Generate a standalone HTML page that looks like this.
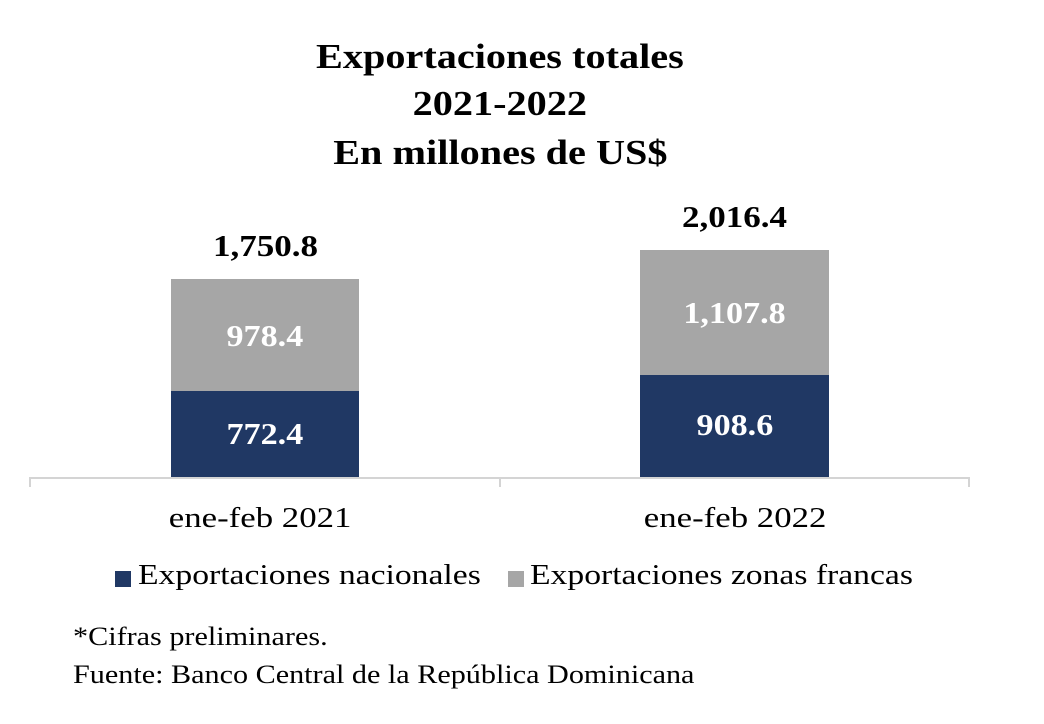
<!DOCTYPE html>
<html><head><meta charset="utf-8"><style>
html,body{margin:0;padding:0;background:#fff;}
body{width:1044px;height:724px;position:relative;overflow:hidden;font-family:"Liberation Serif",serif;}
.a{position:absolute;white-space:nowrap;}
.c{text-align:center;}
.c span{display:inline-block;}
.t{font-weight:bold;font-size:35px;color:#000;width:1000px;left:0;}
.t span{transform:scaleX(1.15);}
.bar{position:absolute;}
.lbl{position:absolute;color:#fff;font-weight:bold;font-size:31px;text-align:center;}
.lbl span{display:inline-block;transform:scaleX(1.1);}
</style></head><body>
<div class="a t c" style="top:37px;"><span>Exportaciones totales</span></div>
<div class="a t c" style="top:84px;"><span>2021-2022</span></div>
<div class="a t c" style="top:133px;"><span>En millones de US$</span></div>

<div class="bar" style="left:171px;top:279px;width:188px;height:112px;background:#a6a6a6;"></div>
<div class="bar" style="left:171px;top:391px;width:188px;height:86px;background:#203864;"></div>
<div class="bar" style="left:640px;top:250px;width:189px;height:125px;background:#a6a6a6;"></div>
<div class="bar" style="left:640px;top:375px;width:189px;height:102px;background:#203864;"></div>

<div class="lbl" style="left:171px;width:188px;top:318px;"><span>978.4</span></div>
<div class="lbl" style="left:171px;width:188px;top:416px;"><span>772.4</span></div>
<div class="lbl" style="left:640px;width:189px;top:295px;"><span>1,107.8</span></div>
<div class="lbl" style="left:640px;width:189px;top:407px;"><span>908.6</span></div>

<div class="a c" style="left:165px;width:200px;top:228px;font-weight:bold;font-size:31px;"><span style="transform:scaleX(1.13)">1,750.8</span></div>
<div class="a c" style="left:634px;width:200px;top:199px;font-weight:bold;font-size:31px;"><span style="transform:scaleX(1.13)">2,016.4</span></div>

<div class="bar" style="left:29px;top:477px;width:941px;height:2px;background:#d4d4d4;"></div>
<div class="bar" style="left:29px;top:477px;width:2px;height:10px;background:#d4d4d4;"></div>
<div class="bar" style="left:499px;top:477px;width:2px;height:10px;background:#d4d4d4;"></div>
<div class="bar" style="left:968px;top:477px;width:2px;height:10px;background:#d4d4d4;"></div>

<div class="a c" style="left:110px;width:300px;top:502px;font-size:29px;"><span style="transform:scaleX(1.2)">ene-feb 2021</span></div>
<div class="a c" style="left:585px;width:300px;top:502px;font-size:29px;"><span style="transform:scaleX(1.2)">ene-feb 2022</span></div>

<div class="bar" style="left:115px;top:571px;width:16px;height:16px;background:#203864;"></div>
<div class="a" style="left:138px;top:559px;font-size:29px;transform:scaleX(1.16);transform-origin:0 0;">Exportaciones nacionales</div>
<div class="bar" style="left:508px;top:571px;width:16px;height:16px;background:#a6a6a6;"></div>
<div class="a" style="left:530px;top:559px;font-size:29px;transform:scaleX(1.16);transform-origin:0 0;">Exportaciones zonas francas</div>

<div class="a" style="left:73px;top:622px;font-size:26px;transform:scaleX(1.16);transform-origin:0 0;">*Cifras preliminares.</div>
<div class="a" style="left:73px;top:660px;font-size:26px;transform:scaleX(1.16);transform-origin:0 0;">Fuente: Banco Central de la República Dominicana</div>
</body></html>
